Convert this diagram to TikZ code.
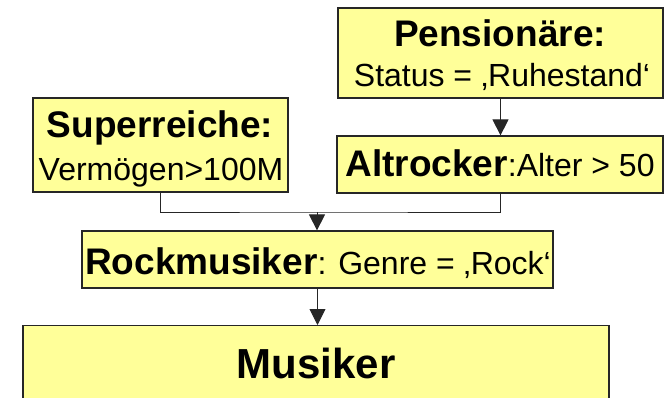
\documentclass[tikz,border=0pt]{standalone}
\usepackage{fontspec}
\setmainfont{Liberation Sans}
\usetikzlibrary{arrows.meta}
\definecolor{boxfill}{HTML}{FFFF99}
\tikzset{
  box/.style={draw=black!85, line width=1.2pt, fill=boxfill, inner sep=0pt},
  txt/.style={anchor=base, inner sep=0pt},
  conn/.style={draw=black!85, line width=0.9pt},
  arr/.style={conn, -{Triangle[width=16pt,length=16pt]}},
}
\newcommand{\body}{\fontsize{32}{36}\selectfont\mdseries}
\newcommand{\ttlf}{\fontsize{37}{40}\selectfont\bfseries}
\begin{document}
\begin{tikzpicture}[x=1pt,y=-1pt]
\useasboundingbox (0,0) rectangle (664,398);
\clip (0,0) rectangle (664,398);
% boxes
\node[box, minimum width=325pt, minimum height=90pt] (pens) at (500.5,53) {};
\node[box, minimum width=255pt, minimum height=94pt] (super) at (160.5,145) {};
\node[box, minimum width=326pt, minimum height=57pt] (alt) at (500,164.5) {};
\node[box, minimum width=471pt, minimum height=57pt] (rock) at (317.5,259.5) {};
\node[box, minimum width=586pt, minimum height=120pt, anchor=north] (mus) at (316,325) {};
% texts
\node[txt] (pens1) at (500,47) {\ttlf Pensionäre:};
\node[txt] (pens2) at (502,87) {\body Status = ‚Ruhestand‘};
\node[txt] (super1) at (160,138) {\ttlf Superreiche:};
\node[txt] (super2) at (161,181) {\body Vermögen>100M};
\node[txt] (alt1) at (500,177) {\ttlf Altrocker\body :Alter > 50};
\node[txt] (rock1) at (318,274) {\ttlf Rockmusiker\body : Genre = ‚Rock‘};
\node[txt] (mus1) at (316,378) {\fontsize{42}{42}\selectfont\bfseries Musiker};
% connectors
\coordinate (join) at (317,212);
\draw[arr] (pens.south) -- (pens.south |- alt.north);
\draw[conn] (super.south) |- (join) -| (alt.south);
\draw[arr] (join) -- (join |- rock.north);
\draw[arr] (rock.south) -- (rock.south |- mus.north);
\end{tikzpicture}
\end{document}
